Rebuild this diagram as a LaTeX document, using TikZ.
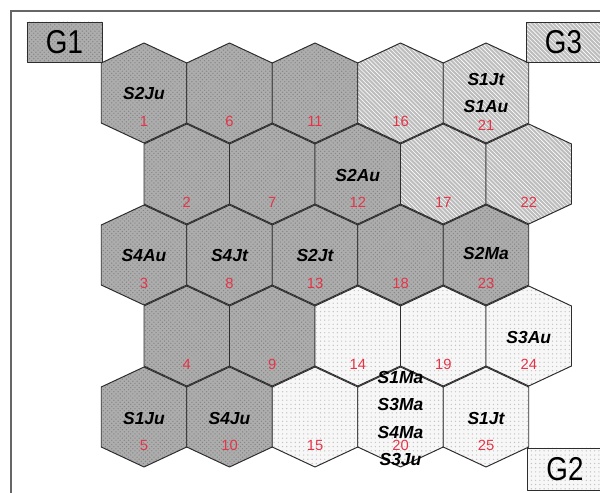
\documentclass[tikz,border=0pt]{standalone}
\usepackage{fontspec}
\setmainfont{Liberation Sans}
\usetikzlibrary{calc,patterns}
\definecolor{hexred}{RGB}{228,52,72}
\definecolor{hexedge}{RGB}{45,45,45}

\begin{document}
\begin{tikzpicture}[x=0.25mm,y=-0.25mm,
    hx/.style={draw=hexedge,line width=0.7pt,line join=round},
    dk/.style={hx,preaction={fill=black!32},pattern=crosshatch dots,pattern color=black!48},
    ht/.style={hx,preaction={fill=black!26},pattern=north west lines,pattern color=white},
    lt/.style={hx,preaction={fill=black!3},pattern=dots,pattern color=black!24},
    lab/.style={font=\fontsize{12.4}{19.6}\selectfont\bfseries\itshape,align=center,inner sep=0pt},
    num/.style={font=\fontsize{10.5}{12}\selectfont,text=hexred,inner sep=0pt},
    grp/.style={font=\fontsize{23.5}{24}\selectfont,minimum width=18.75mm,inner sep=0pt}]
  \useasboundingbox (0,0) rectangle (600,493);
  \draw[black!60,line width=1.2pt] (11,11) rectangle (610,505);

  % honeycomb, numbered down each column
  \foreach \n/\s in {1/dk,2/dk,3/dk,4/dk,5/dk,6/dk,7/dk,8/dk,9/dk,10/dk,
      11/dk,12/dk,13/dk,14/lt,15/lt,16/ht,17/ht,18/dk,19/lt,20/lt,
      21/ht,22/ht,23/dk,24/lt,25/lt}{
    \pgfmathtruncatemacro{\hc}{(\n-1)/5}
    \pgfmathtruncatemacro{\hr}{mod(\n-1,5)}
    \pgfmathsetmacro{\hX}{144+85.5*\hc+42.75*mod(\hr,2)}
    \pgfmathsetmacro{\hY}{93+81*\hr}
    \coordinate (h\n) at (\hX,\hY);
    \path[\s] (h\n) ++(0,-50) -- ++(42.75,20) -- ++(0,60) -- ++(-42.75,20)
      -- ++(-42.75,-20) -- ++(0,-60) -- cycle;
  }
  \foreach \n in {1,...,25}{
    \ifnum\n=21 \def\dy{32}\else\def\dy{28}\fi
    \node[num] (n\n) at ($(h\n)+(0,\dy)$) {\n};
  }

  \node[lab] (l1) at ($(h1)+(0,1)$) {S2Ju};
  \node[lab] (l3) at ($(h3)+(0,1)$) {S4Au};
  \node[lab] (l5) at ($(h5)+(0,1)$) {S1Ju};
  \node[lab] (l8) at ($(h8)+(0,1)$) {S4Jt};
  \node[lab] (l10) at ($(h10)+(0,1)$) {S4Ju};
  \node[lab] (l12) at ($(h12)+(0,2)$) {S2Au};
  \node[lab] (l13) at ($(h13)+(0,1)$) {S2Jt};
  \node[lab] (l20) at ($(h20)+(0,1.5)$) {S1Ma\\S3Ma\\S4Ma\\S3Ju};
  \node[lab] (l21) at ($(h21)+(0,0)$) {S1Jt\\S1Au};
  \node[lab] (l23) at ($(h23)+(0,-1)$) {S2Ma};
  \node[lab] (l24) at ($(h24)+(0,2)$) {S3Au};
  \node[lab] (l25) at ($(h25)+(0,1)$) {S1Jt};

  % group keys
  \node[grp,dk,minimum height=10mm] (G1) at (64.5,42) {\scalebox{.84}[1]{G1}};
  \node[grp,ht,minimum height=10mm] (G3) at (563.5,42) {\scalebox{.84}[1]{G3}};
  \node[grp,lt,minimum height=10.5mm] (G2) at (565,469) {\scalebox{.84}[1]{G2}};
\end{tikzpicture}
\end{document}
